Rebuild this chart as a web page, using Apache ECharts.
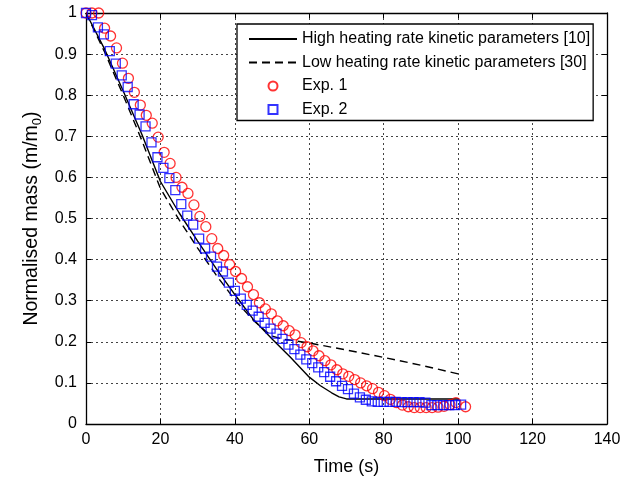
<!DOCTYPE html>
<html>
<head>
<meta charset="utf-8">
<script src="https://cdn.jsdelivr.net/npm/echarts@6/dist/echarts.min.js"></script>
<style>
  html, body { margin: 0; padding: 0; background: #fff; }
  #chart { width: 639px; height: 486px; }
</style>
</head>
<body>
<div id="chart"></div>
<script>
// axis ticks
const xTicks = [0, 20, 40, 60, 80, 100, 120, 140]
const yTicks = [0, 0.1, 0.2, 0.3, 0.4, 0.5, 0.6, 0.7, 0.8, 0.9, 1]

// model: high heating rate kinetic parameters [10]
const highTime = [0, 5, 10, 15, 20, 25, 30, 35, 40, 45, 50, 55, 60, 63, 66, 68, 70, 80, 90, 100]
const highMass = [1, 0.912, 0.81, 0.705, 0.59, 0.514, 0.445, 0.378, 0.315, 0.254, 0.207, 0.162, 0.114, 0.093, 0.076, 0.066, 0.061, 0.061, 0.061, 0.061]

// model: low heating rate kinetic parameters [30]
const lowTime = [0, 5, 10, 15, 20, 25, 30, 35, 40, 45, 48, 50, 53, 55, 60, 70, 80, 90, 100]
const lowMass = [1, 0.905, 0.8, 0.69, 0.573, 0.497, 0.428, 0.362, 0.302, 0.252, 0.228, 0.214, 0.206, 0.204, 0.197, 0.18, 0.162, 0.143, 0.122]

// Exp. 1
const exp1Time = [0, 1.6, 3.4, 5.0, 6.6, 8.2, 9.8, 11.4, 13.0, 14.6, 16.2, 17.8, 19.4, 21.0, 22.6, 24.2, 25.8, 27.4, 29.0, 30.6,
  32.2, 33.8, 35.4, 37.0, 38.6, 40.2, 41.8, 43.4, 45.0, 46.6, 48.2, 49.8, 51.4, 53.0, 54.6, 56.2, 57.8, 59.4, 61.0, 62.6,
  64.2, 65.8, 67.4, 69.0, 70.6, 72.2, 73.8, 75.4, 77.0, 78.6, 80.2, 81.8, 83.4, 85.0, 86.6, 88.2, 89.8, 91.4, 93.0, 94.6,
  96.2, 97.8, 99.4, 102.0]
const exp1Mass = [1, 1, 1, 0.963, 0.944, 0.915, 0.878, 0.841, 0.807, 0.776, 0.751, 0.732, 0.698, 0.661, 0.634, 0.6, 0.576, 0.561, 0.533, 0.505,
  0.48, 0.451, 0.427, 0.41, 0.388, 0.371, 0.354, 0.334, 0.315, 0.295, 0.28, 0.268, 0.251, 0.239, 0.227, 0.217, 0.198, 0.188, 0.178, 0.166,
  0.154, 0.144, 0.132, 0.122, 0.116, 0.108, 0.1, 0.093, 0.086, 0.077, 0.069, 0.06, 0.052, 0.046, 0.042, 0.04, 0.04, 0.04, 0.04, 0.041,
  0.043, 0.047, 0.052, 0.042]

// Exp. 2
const exp2Time = [0, 1.6, 3.2, 4.8, 6.4, 8.0, 9.6, 11.2, 12.8, 14.4, 16.0, 17.6, 19.2, 20.8, 22.4, 24.0, 25.6, 27.2, 28.8, 30.4,
  32.0, 33.6, 35.2, 36.8, 38.4, 40.0, 41.6, 43.2, 44.8, 46.4, 48.0, 49.6, 51.2, 52.8, 54.4, 56.0, 57.6, 59.2, 60.8, 62.4,
  64.0, 65.6, 67.2, 68.8, 70.4, 72.0, 73.6, 75.2, 76.8, 78.4, 80.0, 81.6, 83.2, 84.8, 86.4, 88.0, 89.6, 91.2, 92.8, 94.4,
  96.0, 97.6, 99.2, 100.8]
const exp2Mass = [1, 0.995, 0.965, 0.948, 0.907, 0.877, 0.848, 0.82, 0.778, 0.753, 0.724, 0.685, 0.649, 0.623, 0.598, 0.569, 0.535, 0.507, 0.485, 0.451,
  0.427, 0.407, 0.383, 0.371, 0.344, 0.324, 0.305, 0.29, 0.276, 0.261, 0.246, 0.232, 0.22, 0.207, 0.193, 0.182, 0.169, 0.157, 0.148, 0.138,
  0.126, 0.115, 0.104, 0.093, 0.085, 0.074, 0.065, 0.059, 0.055, 0.054, 0.054, 0.054, 0.054, 0.053, 0.053, 0.053, 0.053, 0.052, 0.046, 0.046,
  0.046, 0.046, 0.046, 0.047]

const FONT = 'Liberation Sans, Arial, sans-serif'

const pairs = (xs, ys) => xs.map((x, i) => [x, ys[i]])

const myChart = echarts.init(document.getElementById('chart'))

// extra top / right axes only carry the inward ticks of the box
const tickAxis = (extra) => Object.assign({
    axisLine: { show: true, onZero: false, lineStyle: { color: '#000', width: 1.3 } },
    axisTick: { show: true, inside: true, length: 5, lineStyle: { color: '#000' } },
    splitLine: { show: false },
    axisLabel: { show: false }
}, extra)

const option = {
    animation: false,
    backgroundColor: '#fff',
    textStyle: { fontFamily: FONT },
    grid: { left: 86, right: 32, top: 13, bottom: 62, containLabel: false },
    legend: {
        orient: 'vertical',
        left: 237,
        top: 24,
        padding: [7, 3, 3, 11],
        itemWidth: 48,
        itemHeight: 9,
        itemGap: 7.5,
        backgroundColor: '#fff',
        borderColor: '#000',
        borderWidth: 1.3,
        borderRadius: 0,
        textStyle: { fontFamily: FONT, fontSize: 16, color: '#000', lineHeight: 14 },
        data: [
            { name: 'High heating rate kinetic parameters [10]', itemStyle: { opacity: 0 } },
            { name: 'Low heating rate kinetic parameters [30]', itemStyle: { opacity: 0 } },
            'Exp. 1',
            { name: 'Exp. 2', icon: 'path://M0,0L10,0L10,10L0,10Z' }
        ]
    },
    xAxis: [
        {
            type: 'value',
            min: 0, max: 140, interval: 20,
            name: 'Time (s)',
            nameLocation: 'middle',
            nameGap: 34,
            nameTextStyle: { fontFamily: FONT, fontSize: 18, color: '#000' },
            axisLine: { show: true, onZero: false, lineStyle: { color: '#000', width: 1.3 } },
            axisTick: { show: true, inside: true, length: 5, lineStyle: { color: '#000' } },
            axisLabel: {
                fontFamily: FONT, fontSize: 16, color: '#000', margin: 8,
                formatter: v => String(xTicks.find(t => t === v) ?? v)
            },
            splitLine: { show: true, lineStyle: { color: '#444', type: [2, 3], width: 1 } }
        },
        tickAxis({ type: 'value', position: 'top', min: 0, max: 140, interval: 20 })
    ],
    yAxis: [
        {
            type: 'value',
            min: 0, max: 1, interval: 0.1,
            name: 'Normalised mass (m/m{sub|0})',
            nameLocation: 'middle',
            nameGap: 40,
            nameTextStyle: {
                fontFamily: FONT, fontSize: 19.5, color: '#000', lineHeight: 24,
                rich: { sub: { fontFamily: FONT, fontSize: 13, lineHeight: 12, verticalAlign: 'bottom', color: '#000' } }
            },
            axisLine: { show: true, onZero: false, lineStyle: { color: '#000', width: 1.3 } },
            axisTick: { show: true, inside: true, length: 5, lineStyle: { color: '#000' } },
            axisLabel: {
                fontFamily: FONT, fontSize: 16, color: '#000', margin: 9,
                formatter: v => {
                    const t = yTicks.find(k => Math.abs(k - v) < 1e-6)
                    return String(t === undefined ? v : t)
                }
            },
            splitLine: { show: true, lineStyle: { color: '#444', type: [2, 3], width: 1 } }
        },
        tickAxis({ type: 'value', position: 'right', min: 0, max: 1, interval: 0.1 })
    ],
    series: [
        {
            name: 'High heating rate kinetic parameters [10]',
            type: 'line',
            data: pairs(highTime, highMass),
            showSymbol: false,
            symbol: 'none',
            lineStyle: { color: '#000', width: 1.4 },
            itemStyle: { color: '#000' },
            z: 3
        },
        {
            name: 'Low heating rate kinetic parameters [30]',
            type: 'line',
            data: pairs(lowTime, lowMass),
            showSymbol: false,
            symbol: 'none',
            lineStyle: { color: '#000', width: 1.4, type: [8, 5] },
            itemStyle: { color: '#000' },
            z: 3
        },
        {
            name: 'Exp. 1',
            type: 'scatter',
            data: pairs(exp1Time, exp1Mass),
            symbol: 'circle',
            symbolSize: 10,
            itemStyle: { color: 'rgba(255,255,255,0)', borderColor: '#ff0000', borderWidth: 1.3 },
            z: 4
        },
        {
            name: 'Exp. 2',
            type: 'scatter',
            data: pairs(exp2Time, exp2Mass),
            symbol: 'rect',
            symbolSize: 9,
            itemStyle: { color: 'rgba(255,255,255,0)', borderColor: '#0000ff', borderWidth: 1.3 },
            z: 5
        }
    ]
}

myChart.setOption(option)
</script>
</body>
</html>
